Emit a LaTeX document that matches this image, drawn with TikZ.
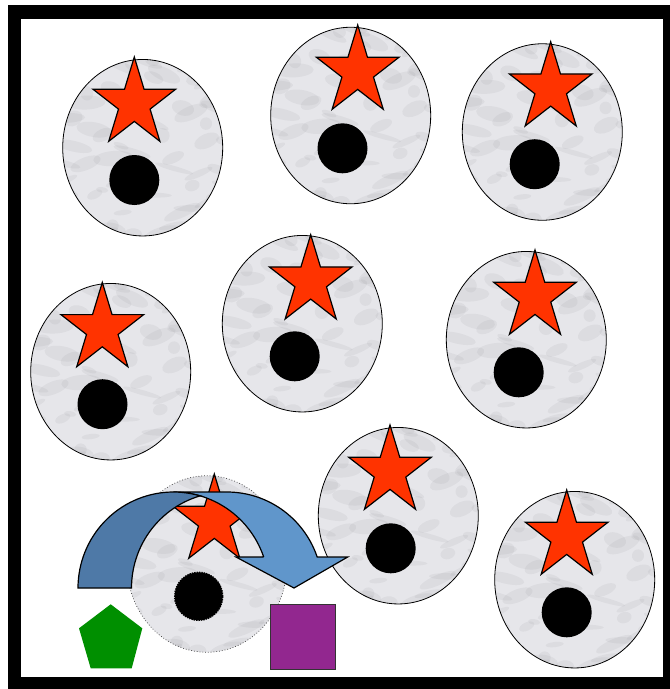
\documentclass[tikz,border=0pt]{standalone}
\usetikzlibrary{shapes.geometric}
\definecolor{starred}{HTML}{FF3300}
\definecolor{marble}{HTML}{E6E6EA}
\definecolor{marbledark}{HTML}{86868C}
\definecolor{arrowlight}{HTML}{6096CB}
\definecolor{arrowdark}{HTML}{4E79A7}
\definecolor{pentgreen}{HTML}{008F00}
\definecolor{sqpurple}{HTML}{92278F}
\tikzset{
 marbletex/.style={path picture={
   \begin{scope}[shift={(path picture bounding box.center)}]
   \foreach \i in {1,...,90}{
     \pgfmathsetmacro\bx{80*sin(\i*97.49)}
     \pgfmathsetmacro\by{88*cos(\i*137.31+17)}
     \pgfmathsetmacro\ba{6+7*(1+sin(\i*71.3))}
     \pgfmathsetmacro\bb{2.5+2.5*(1+cos(\i*53.7))}
     \pgfmathsetmacro\br{25*sin(\i*29.1)}
     \fill[marbledark, opacity=0.10] (\bx,\by) ellipse [x radius=\ba, y radius=\bb, rotate=\br];
   }
   \end{scope}}},
 cell/.style={ellipse, draw=black, line width=0.8pt, fill=marble, marbletex, minimum width=160pt, minimum height=176.5pt, inner sep=0pt},
 dimcell/.style={cell, draw=black!75, dotted, line width=0.7pt},
 nucleus/.style={circle, fill=black, minimum size=50pt, inner sep=0pt},
 dimnucleus/.style={nucleus, draw=black, densely dotted, line width=1.4pt, minimum size=48pt},
 starsty/.style={draw=black, line width=1.2pt, fill=starred, line join=miter},
 redstar/.pic={\draw[starsty] (0,-46.6) -- (9.76,-14.4) -- (41.37,-14.4) -- (15.79,5.5) -- (25.57,37.7) -- (0,17.8) -- (-25.57,37.7) -- (-15.79,5.5) -- (-41.37,-14.4) -- (-9.76,-14.4) -- cycle;},
 arrowsty/.style={draw=black, line width=1.2pt, line join=miter},
}
\begin{document}
\begin{tikzpicture}[x=1pt, y=-1pt]
\useasboundingbox (0,0) rectangle (670,689);
\clip (0,0) rectangle (670,689);
\fill[white] (0,0) rectangle (670,689);
% frame
\draw[line width=13.5pt] (14.5,12) rectangle (669.5,683.5);
% cells
\foreach \n/\cx/\cy/\sx/\sy/\dx/\dy in {
  1/142.7/147.7/134.3/103.6/134.3/180,
  2/350.7/115.5/357.7/71.6/342.5/148.3,
  3/542.3/132/550.7/88.3/534.7/164.2,
  4/110.7/371.7/102.3/329/102.5/404.2,
  5/302.3/323.7/310.7/281.3/294.7/356.3,
  6/526.3/339.7/535/296.6/518.7/372.3,
  8/398.3/515.7/390/471.6/390.7/548.3,
  9/574.7/579.7/566.7/536.6/566.7/612.3}{
  \node[cell] (c\n) at (\cx,\cy) {};
  \pic (s\n) at (\sx,\sy) {redstar};
  \node[nucleus] (d\n) at (\dx,\dy) {};
}
% dimmed cell
\node[dimcell] (c7) at (207,564) {};
\pic (s7) at (214.3,520.6) {redstar};
\node[dimnucleus] (d7) at (198.7,596.3) {};
% curved arrow (front, light)
\draw[arrowsty, fill=arrowlight] (263.7,557)
  -- plot[domain=-18.84:-90, samples=40, variable=\t] ({173.4+95.4*cos(\t)},{588+96*sin(\t)})
  -- plot[domain=-90:-18.84, samples=40, variable=\t] ({226.9+95.4*cos(\t)},{588+96*sin(\t)})
  -- (347.7,557) -- (294,588) -- (236,557) -- cycle;
% curved arrow (back, dark)
\draw[arrowsty, fill=arrowdark]
  plot[domain=-73.7:-180, samples=40, variable=\t] ({173.4+95.4*cos(\t)},{588+96*sin(\t)})
  -- plot[domain=-180:-106.3, samples=30, variable=\t] ({226.9+95.4*cos(\t)},{588+96*sin(\t)})
  -- cycle;
% pentagon
\fill[pentgreen] (110.7,604.3) -- (142.3,628.3) -- (131.7,668.3) -- (90.7,668.3) -- (79,628.3) -- cycle;
% square
\node[draw=black!80, line width=1pt, fill=sqpurple, minimum size=65pt, inner sep=0pt] (sq) at (302.5,636.5) {};
\end{tikzpicture}
\end{document}
